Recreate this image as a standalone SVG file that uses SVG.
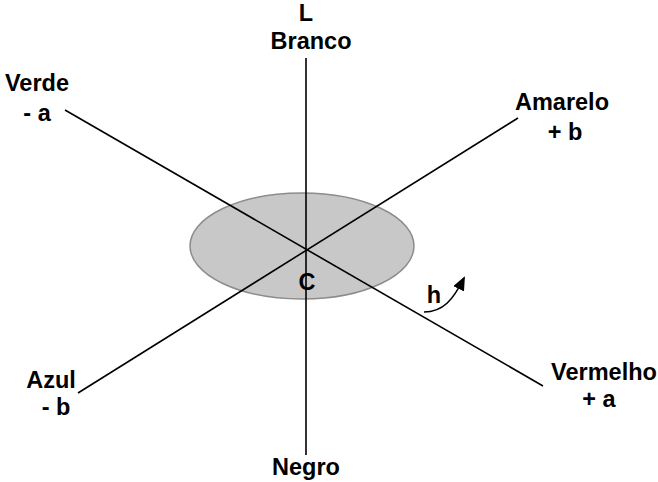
<svg xmlns="http://www.w3.org/2000/svg" width="658" height="482" viewBox="0 0 658 482">
<defs>
<style>
text{font-family:"Liberation Sans",Arial,sans-serif;font-weight:bold;font-size:23.5px;fill:#000;text-anchor:middle}
.ax{stroke:#000;stroke-width:1.6;fill:none}
</style>
<marker id="ah" markerWidth="14" markerHeight="12" refX="12" refY="6" orient="auto" markerUnits="userSpaceOnUse" viewBox="0 0 14 12">
<path d="M0,0 L14,6 L0,12 z" fill="#000"/>
</marker>
</defs>
<rect width="658" height="482" fill="#fff"/>
<g id="disk">
<ellipse cx="302" cy="246" rx="112" ry="53" fill="#c8c8c8" stroke="#8c8c8c" stroke-width="1.5"/>
</g>
<g id="connectors">
<line class="ax" x1="306" y1="58" x2="306" y2="455"/>
<line class="ax" x1="65" y1="110" x2="543" y2="386"/>
<line class="ax" x1="518" y1="118" x2="78" y2="393"/>
<path class="ax" d="M424,312 C443,312 453,300 464,278" stroke-width="2" marker-end="url(#ah)"/>
</g>
<g id="L"><text x="306" y="21">L</text><text x="311" y="49">Branco</text></g>
<g id="verde"><text x="37" y="91">Verde</text><text x="37" y="121">- a</text></g>
<g id="amarelo"><text x="562" y="110">Amarelo</text><text x="565" y="140">+ b</text></g>
<g id="azul"><text x="51" y="388">Azul</text><text x="56" y="415">- b</text></g>
<g id="vermelho"><text x="604" y="380">Vermelho</text><text x="599" y="407">+ a</text></g>
<g id="negro"><text x="306" y="475">Negro</text></g>
<g id="C"><text x="307" y="290">C</text></g>
<g id="h"><text x="434" y="303">h</text></g>
</svg>
